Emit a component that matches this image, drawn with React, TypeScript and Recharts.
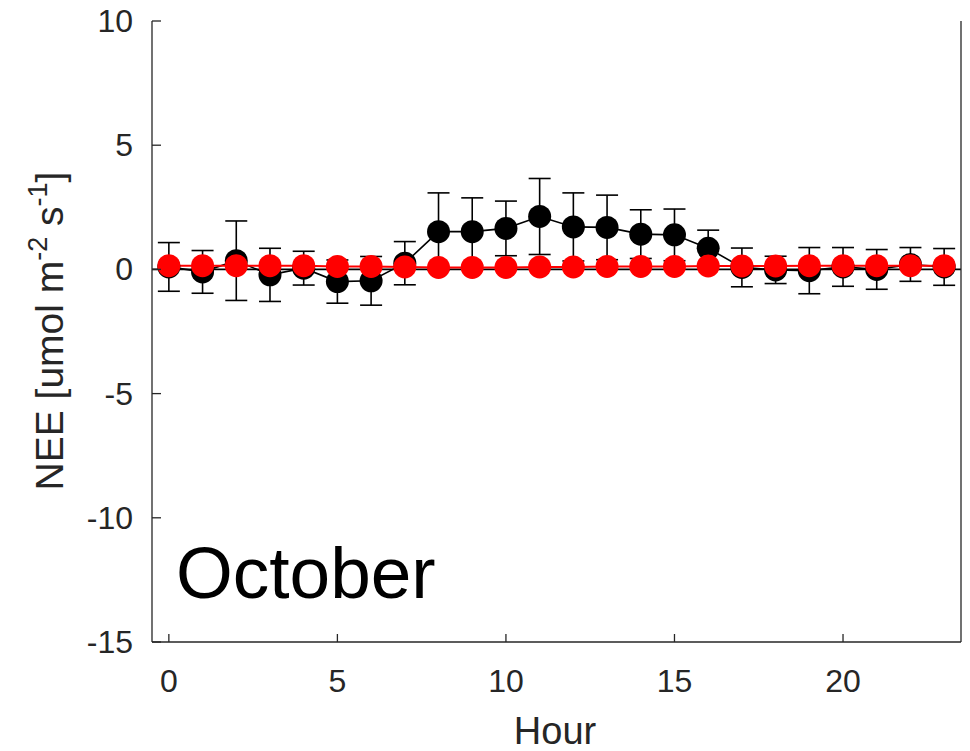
import { ComposedChart, Line, XAxis, YAxis, ErrorBar, ReferenceLine } from 'recharts';

const hours = [0, 1, 2, 3, 4, 5, 6, 7, 8, 9, 10, 11, 12, 13, 14, 15, 16, 17, 18, 19, 20, 21, 22, 23];
const blackMean = [0.1, -0.1, 0.35, -0.22, 0.05, -0.49, -0.46, 0.25, 1.52, 1.52, 1.65, 2.13, 1.71, 1.69, 1.42, 1.39, 0.85, 0.08, -0.02, -0.05, 0.1, 0.0, 0.2, 0.1];
const blackErr = [0.98, 0.86, 1.6, 1.07, 0.68, 0.87, 0.98, 0.87, 1.56, 1.36, 1.1, 1.53, 1.37, 1.3, 0.98, 1.04, 0.73, 0.78, 0.55, 0.93, 0.78, 0.8, 0.68, 0.74];
const redMean = [0.15, 0.15, 0.15, 0.15, 0.15, 0.12, 0.12, 0.1, 0.08, 0.08, 0.08, 0.1, 0.1, 0.12, 0.12, 0.12, 0.14, 0.14, 0.14, 0.15, 0.15, 0.15, 0.15, 0.15];
const xTicks = [0, 5, 10, 15, 20];
const yTicks = [-15, -10, -5, 0, 5, 10];

const FONT = '"Liberation Sans", Arial, Helvetica, sans-serif';
const AXIS = '#262626';

const data = hours.map((h, i) => ({ hour: h, black: blackMean[i], err: blackErr[i], red: redMean[i] }));

function BottomTick({ x, y, payload }: any) {
  return (
    <g>
      <line x1={x} x2={x} y1={y} y2={y - 8} stroke={AXIS} strokeWidth={1.3} />
      <text x={x} y={y + 50} textAnchor="middle" fontSize={32} fontFamily={FONT} fill={AXIS}>
        {payload.value}
      </text>
    </g>
  );
}

function LeftTick({ x, y, payload }: any) {
  return (
    <g>
      <line x1={x} x2={x + 9} y1={y} y2={y} stroke={AXIS} strokeWidth={1.3} />
      <text x={x - 19} y={y + 11} textAnchor="end" fontSize={32} fontFamily={FONT} fill={AXIS}>
        {payload.value}
      </text>
    </g>
  );
}

function TopTick({ x, y }: any) {
  return <line x1={x} x2={x} y1={y} y2={y + 8} stroke={AXIS} strokeWidth={1.3} />;
}

function RightTick({ x, y }: any) {
  return <line x1={x} x2={x - 9} y1={y} y2={y} stroke={AXIS} strokeWidth={1.3} />;
}

export default function App() {
  return (
    <div style={{ position: 'absolute', left: 0, top: 0, background: '#fff' }}>
      <ComposedChart width={970} height={751} data={data} margin={{ top: 21, right: 0, bottom: 0, left: 0 }}>
        <XAxis
          dataKey="hour"
          type="number"
          domain={[-0.5, 23.5]}
          ticks={xTicks}
          height={109}
          tickSize={0}
          tickMargin={0}
          tickLine={false}
          tick={<BottomTick />}
          axisLine={{ stroke: AXIS, strokeWidth: 1.3 }}
        />
        <XAxis
          xAxisId="top"
          orientation="top"
          type="number"
          domain={[-0.5, 23.5]}
          ticks={xTicks}
          height={0}
          tickSize={0}
          tickMargin={0}
          tickLine={false}
          tick={<TopTick />}
          axisLine={{ stroke: AXIS, strokeWidth: 1.3 }}
        />
        <YAxis
          type="number"
          domain={[-15, 10]}
          ticks={yTicks}
          width={152}
          tickSize={0}
          tickMargin={0}
          tickLine={false}
          tick={<LeftTick />}
          axisLine={{ stroke: AXIS, strokeWidth: 1.3 }}
        />
        <YAxis
          yAxisId="right"
          orientation="right"
          type="number"
          domain={[-15, 10]}
          ticks={yTicks}
          width={9}
          tickSize={0}
          tickMargin={0}
          tickLine={false}
          tick={<RightTick />}
          axisLine={{ stroke: AXIS, strokeWidth: 1.3 }}
        />
        <ReferenceLine y={0} stroke="#000" strokeWidth={1.6} />
        <Line
          dataKey="black"
          stroke="#000"
          strokeWidth={1.6}
          dot={{ r: 11.5, fill: '#000', stroke: 'none' }}
          isAnimationActive={false}
        >
          <ErrorBar dataKey="err" width={11} stroke="#000" strokeWidth={1.6} direction="y" />
        </Line>
        <Line
          dataKey="red"
          stroke="#ff0000"
          strokeWidth={2}
          dot={{ r: 11.5, fill: '#ff0000', stroke: 'none' }}
          isAnimationActive={false}
        />
        <text x={176} y={598} fontSize={73} fontFamily={FONT} fill="#000">
          October
        </text>
        <text x={63} y={331} transform="rotate(-90 63 331)" textAnchor="middle" fontSize={39} fontFamily={FONT} fill={AXIS}>
          NEE [umol m
          <tspan fontSize={27} dy={-16}>-2</tspan>
          <tspan dy={16}> s</tspan>
          <tspan fontSize={27} dy={-16}>-1</tspan>
          <tspan dy={16}>]</tspan>
        </text>
        <text x={555} y={744} textAnchor="middle" fontSize={38} fontFamily={FONT} fill={AXIS}>
          Hour
        </text>
      </ComposedChart>
    </div>
  );
}
